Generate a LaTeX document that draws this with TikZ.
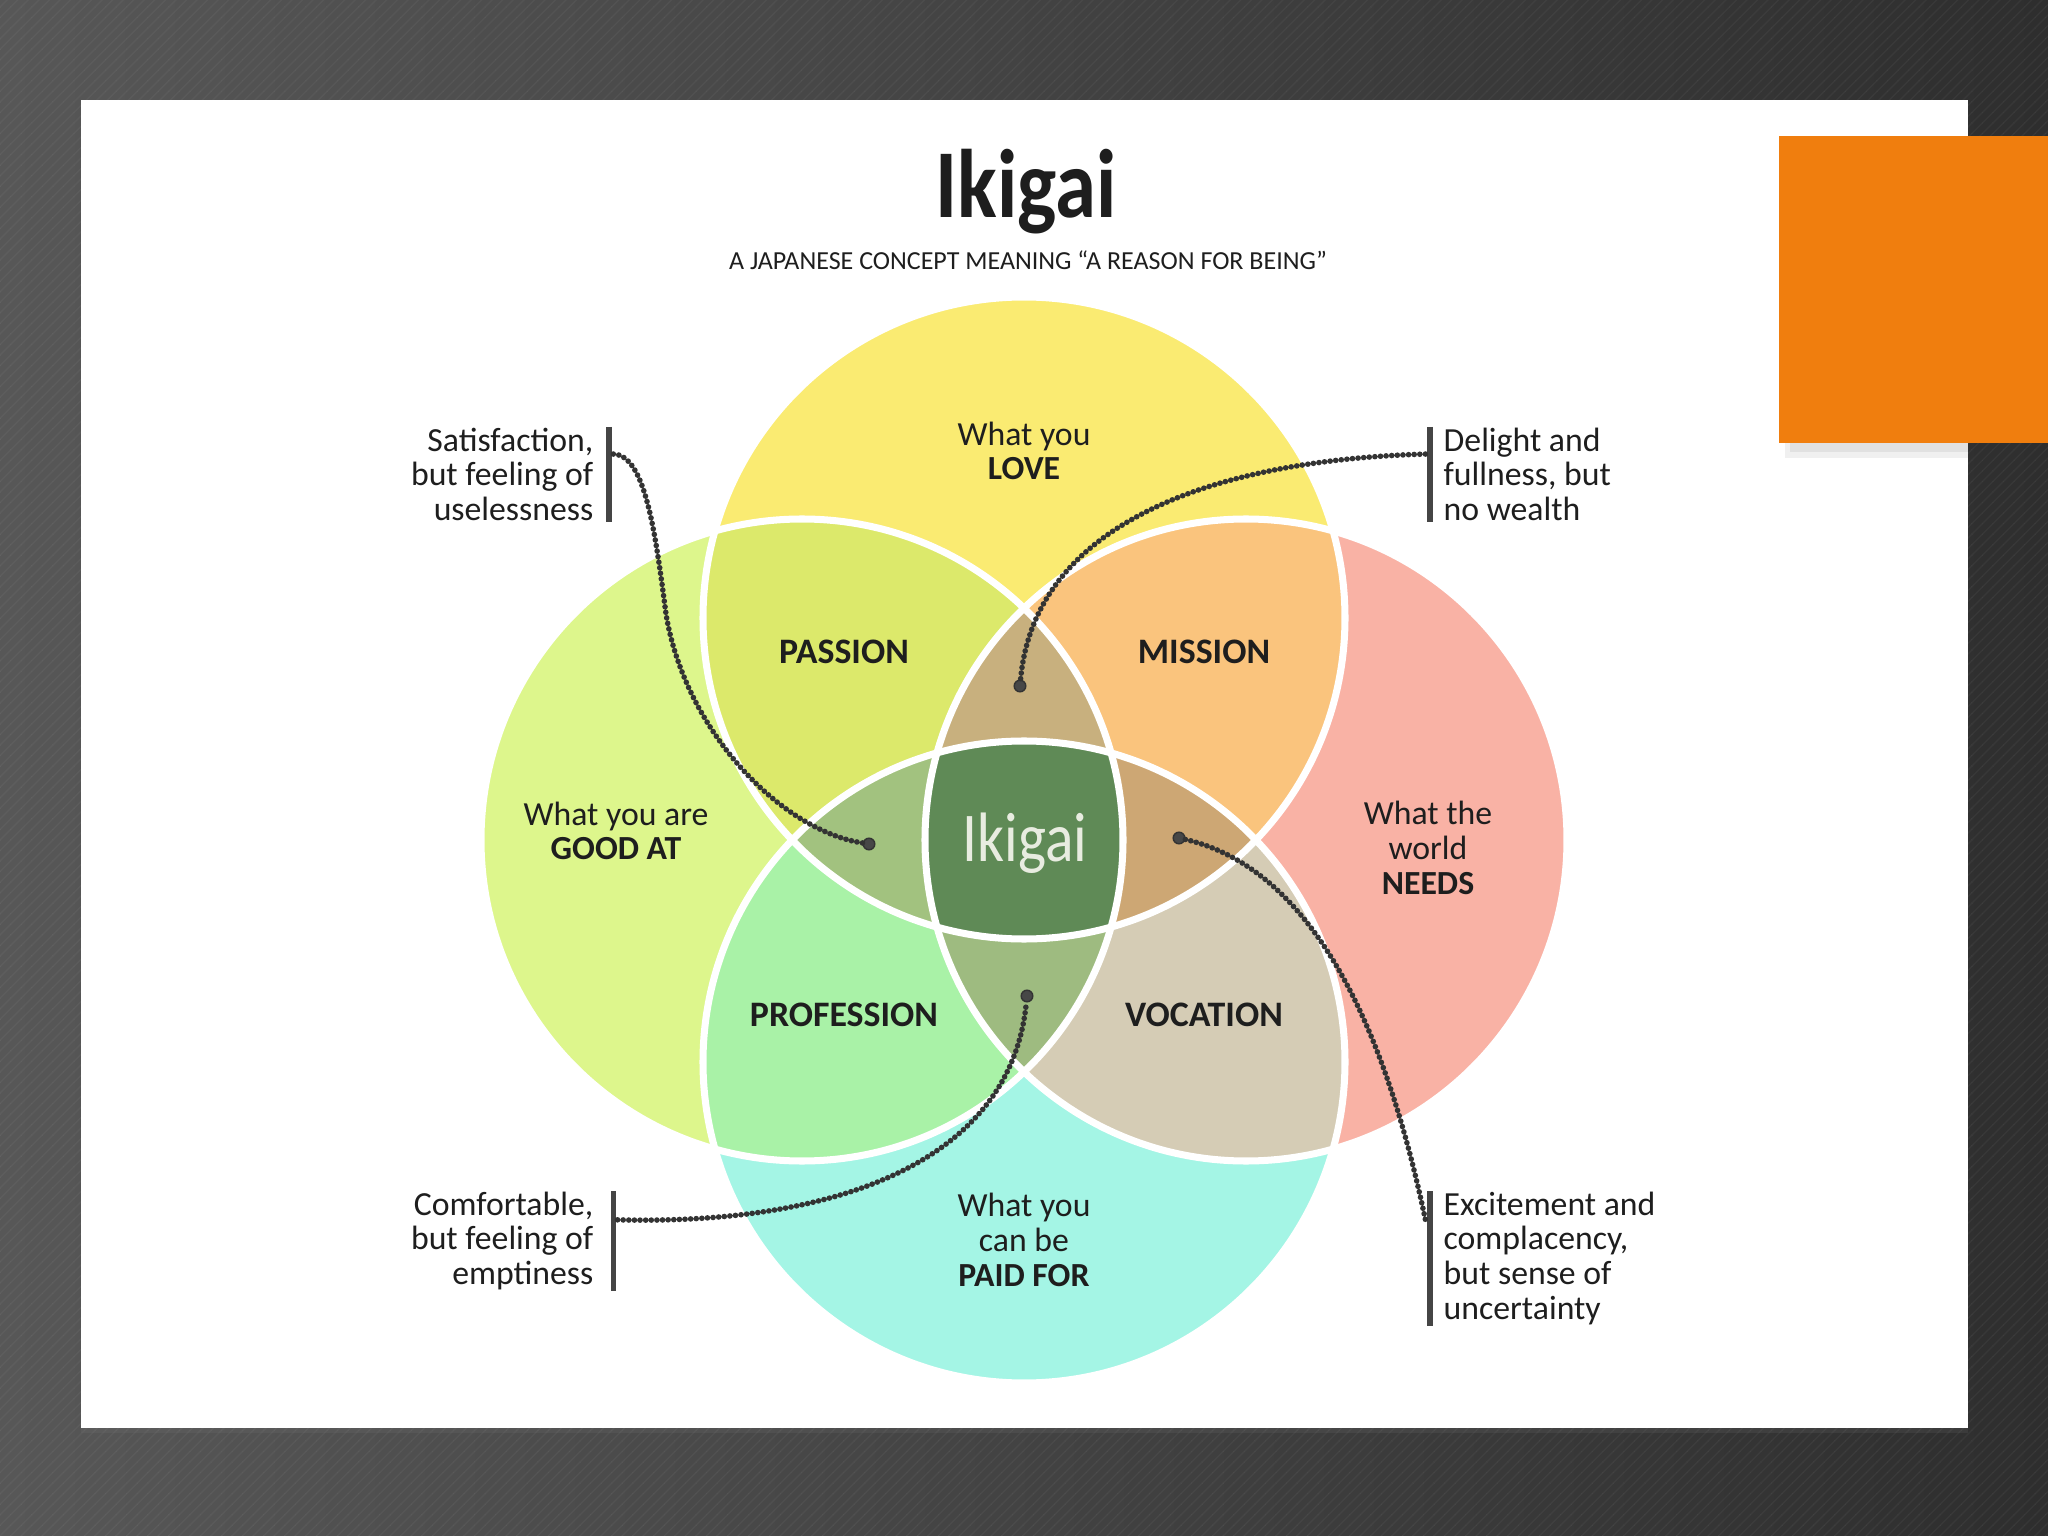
\documentclass[tikz,border=0pt]{standalone}
\usepackage{fontspec}
\setmainfont{Carlito}
\usepackage{xcolor}
\usetikzlibrary{positioning, calc, shadows, patterns}
\definecolor{bgleft}{HTML}{575757}
\definecolor{bgright}{HTML}{2E2E2E}
\definecolor{slideorange}{HTML}{F07E0E}
\definecolor{textdark}{HTML}{1E1E1E}
\definecolor{bardark}{HTML}{454545}
\definecolor{linkdark}{HTML}{333333}
\definecolor{loveyellow}{HTML}{FAEB72}
\definecolor{goodlime}{HTML}{DDF68C}
\definecolor{needspink}{HTML}{F9B2A5}
\definecolor{paidaqua}{HTML}{A4F5E5}
\definecolor{passionfill}{HTML}{DCE96B}
\definecolor{missionfill}{HTML}{FAC47D}
\definecolor{professionfill}{HTML}{A9F2A7}
\definecolor{vocationfill}{HTML}{D5CCB5}
\definecolor{uppertan}{HTML}{C8B07E}
\definecolor{leftolive}{HTML}{A2C27F}
\definecolor{righttan}{HTML}{CDA774}
\definecolor{lowerolive}{HTML}{9EBB80}
\definecolor{coregreen}{HTML}{5F8A56}
\definecolor{coretext}{HTML}{E8ECE0}

% the four circles of the diagram
\newcommand{\loveCirc}{(10.24,-6.18) circle (3.21)}
\newcommand{\goodCirc}{(8.02,-8.40) circle (3.21)}
\newcommand{\needsCirc}{(12.46,-8.40) circle (3.21)}
\newcommand{\paidCirc}{(10.24,-10.62) circle (3.21)}

\begin{document}
\begin{tikzpicture}[
    ring/.style={draw=white, line width=2pt},
    tag/.style={align=center, font=\fontsize{9.6}{9.9}\selectfont, text=textdark},
    zone/.style={font=\fontsize{10.2}{12}\selectfont\bfseries, text=textdark},
    note/.style={font=\fontsize{9.6}{9.9}\selectfont, inner sep=0pt, text=textdark},
    bar/.style={draw=bardark, line width=1.5pt},
    pin/.style={circle, fill=linkdark!90, draw=linkdark, inner sep=0pt, minimum size=3.3pt},
    link/.style={draw=linkdark, line width=1.6pt, line cap=round, dash pattern=on 0pt off 1.6pt},
]
\useasboundingbox (0,0) rectangle (20.48,-15.36);

% slide background
\shade[left color=bgleft, right color=bgright] (0,0) rectangle (20.48,-15.36);
\fill[pattern=north east lines, pattern color=white, opacity=0.04] (0,0) rectangle (20.48,-15.36);
\fill[white, drop shadow={opacity=0.15, shadow xshift=0pt, shadow yshift=-1.5pt}] (0.81,-1.00) rectangle (19.68,-14.28);
\fill[black, opacity=0.06] (17.85,-4.43) rectangle (19.68,-4.58);
\fill[black, opacity=0.06] (17.90,-4.43) rectangle (19.68,-4.52);
\fill[slideorange] (17.79,-1.36) rectangle (20.48,-4.43);

% circles, pairs, triples, core
\fill[loveyellow] \loveCirc;
\fill[goodlime] \goodCirc;
\fill[needspink] \needsCirc;
\fill[paidaqua] \paidCirc;
\begin{scope}
  \clip \loveCirc;
  \fill[passionfill] \goodCirc;
  \fill[missionfill] \needsCirc;
\end{scope}
\begin{scope}
  \clip \paidCirc;
  \fill[professionfill] \goodCirc;
  \fill[vocationfill] \needsCirc;
\end{scope}
\begin{scope}
  \clip \loveCirc; \clip \goodCirc;
  \fill[uppertan] \needsCirc;
  \fill[leftolive] \paidCirc;
\end{scope}
\begin{scope}
  \clip \paidCirc; \clip \needsCirc;
  \fill[righttan] \loveCirc;
  \fill[lowerolive] \goodCirc;
\end{scope}
\begin{scope}
  \clip \loveCirc; \clip \goodCirc; \clip \needsCirc;
  \fill[coregreen] \paidCirc;
\end{scope}
\draw[ring] \loveCirc;
\draw[ring] \goodCirc;
\draw[ring] \needsCirc;
\draw[ring] \paidCirc;

% titles
\node[anchor=base, font=\fontsize{27.7}{30}\selectfont\bfseries, text=textdark] (title) at (10.26,-2.18) {\scalebox{0.85}[1]{Ikigai}};
\node[anchor=base, font=\fontsize{7.4}{9}\selectfont, text=textdark] (subtitle) at (10.28,-2.70) {A JAPANESE CONCEPT MEANING ``A REASON FOR BEING''};

% circle labels
\node[tag] (loveTag) at (10.24,-4.51) {What you\\\textbf{LOVE}};
\node[tag] (goodTag) at (6.16,-8.31) {What you are\\\textbf{GOOD AT}};
\node[tag] (needsTag) at (14.28,-8.48) {What the\\world\\\textbf{NEEDS}};
\node[tag] (paidTag) at (10.24,-12.40) {What you\\can be\\\textbf{PAID FOR}};

\node[zone] (passion) at (8.44,-6.52) {PASSION};
\node[zone] (mission) at (12.04,-6.52) {MISSION};
\node[zone] (profession) at (8.44,-10.15) {PROFESSION};
\node[zone] (vocation) at (12.04,-10.15) {VOCATION};

\node[anchor=base, font=\fontsize{19.9}{22}\selectfont, text=coretext] (core) at (10.25,-8.62) {\scalebox{0.85}[1]{Ikigai}};

% side notes
\node[note, align=right, anchor=north east] (satis) at (5.94,-4.27) {Satisfaction,\\but feeling of\\uselessness};
\node[note, align=left, anchor=north west] (delight) at (14.43,-4.27) {Delight and\\fullness, but\\no wealth};
\node[note, align=right, anchor=north east] (comfort) at (5.94,-11.91) {Comfortable,\\but feeling of\\emptiness};
\node[note, align=left, anchor=north west] (excite) at (14.43,-11.91) {Excitement and\\complacency,\\but sense of\\uncertainty};

\draw[bar] ([xshift=4.3pt]satis.north east) -- ([xshift=4.3pt]satis.south east);
\draw[bar] ([xshift=-3.7pt]delight.north west) -- ([xshift=-3.7pt]delight.south west);
\draw[bar] ([xshift=5.5pt]comfort.north east) -- ([xshift=5.5pt]comfort.south east);
\draw[bar] ([xshift=-3.7pt]excite.north west) -- ([xshift=-3.7pt]excite.south west);

\coordinate (satisPin) at ([xshift=5.5pt,yshift=-7.7pt]satis.north east);
\coordinate (delightPin) at ([xshift=-5pt,yshift=-7.7pt]delight.north west);
\coordinate (comfortPin) at ([xshift=6.7pt,yshift=-8.2pt]comfort.north east);
\coordinate (excitePin) at ([xshift=-5pt,yshift=-8.2pt]excite.north west);

% pins in the triple overlaps
\node[pin] (satisDot) at (8.69,-8.44) {};
\node[pin] (delightDot) at (10.20,-6.86) {};
\node[pin] (comfortDot) at (10.27,-9.96) {};
\node[pin] (exciteDot) at (11.79,-8.38) {};

\draw[link] (satisPin) .. controls (6.45,-4.55) and (6.55,-5.3) .. (6.66,-6.14)
    .. controls (6.85,-7.3) and (7.8,-8.3) .. (satisDot);
\draw[link] (delightPin) .. controls (12.2,-4.6) and (10.35,-5.2) .. (delightDot);
\draw[link] (comfortPin) .. controls (8.2,-12.25) and (10.1,-11.7) .. (comfortDot);
\draw[link] (exciteDot) .. controls (13.4,-8.75) and (14.0,-11.0) .. (excitePin);
\end{tikzpicture}
\end{document}
